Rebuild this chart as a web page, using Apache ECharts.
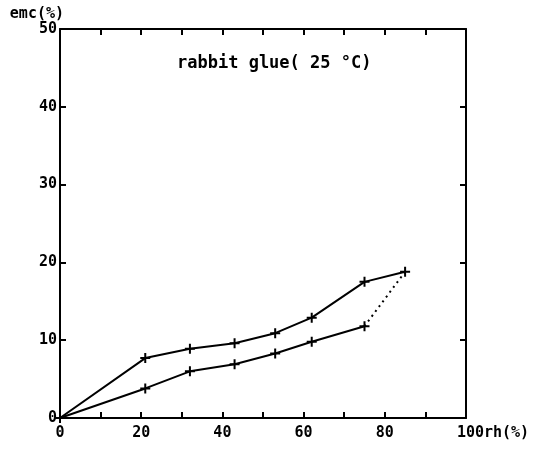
<!DOCTYPE html>
<html>
<head>
<meta charset="utf-8">
<script src="https://cdn.jsdelivr.net/npm/echarts@6/dist/echarts.min.js"></script>
<style>html,body{margin:0;padding:0;background:#fff}#c{width:534px;height:449px}</style>
</head>
<body>
<div id="c"></div>
<script>
var rhUpper = [0, 21, 32, 43, 53, 62, 75, 85];
var emcUpper = [0, 7.7, 8.9, 9.6, 10.9, 12.9, 17.5, 18.8];
var rhLower = [0, 21, 32, 43, 53, 62, 75];
var emcLower = [0, 3.8, 6.0, 6.9, 8.3, 9.8, 11.8];
var titleText = 'rabbit glue( 25 °C)';
var yName = 'emc(%)';
var xName = 'rh(%)';

function pairs(xs, ys){ return xs.map(function(x,i){ return [x, ys[i]]; }); }
var upper = pairs(rhUpper, emcUpper);
var lower = pairs(rhLower, emcLower);
var connector = [lower[lower.length-1], upper[upper.length-1]];

var FONT = 'DejaVu Sans Mono';
var plus = 'path://M0,3.6H3.6V0H5.4V3.6H9V5.4H5.4V9H3.6V5.4H0Z';
var chart = echarts.init(document.getElementById('c'));
var lblStyle = {fontFamily: FONT, fontWeight: 'bold', fontSize: 15, color: '#000'};
var axLine = {onZero: false, lineStyle: {color: '#000', width: 2}};
var tick = {inside: true, length: 6, lineStyle: {color: '#000', width: 2}};
chart.setOption({
  animation: false,
  backgroundColor: '#fff',
  title: {text: titleText, left: 172, top: 50, textStyle: {fontFamily: FONT, fontWeight: 'bold', fontSize: 17, color: '#000'}},
  grid: {left: 60, right: 68, top: 29, bottom: 31},
  xAxis: [{
    type: 'value', min: 0, max: 100, interval: 10, position: 'bottom',
    axisLine: axLine, axisTick: tick,
    axisLabel: Object.assign({
      margin: 8,
      formatter: function(v){
        if (v === 100) return '{e|' + v + xName + '}';
        return v % 20 === 0 ? String(v) : '';
      },
      rich: {e: {fontFamily: FONT, fontWeight: 'bold', fontSize: 15, color: '#000', padding: [0, 0, 0, 54]}}
    }, lblStyle),
    splitLine: {show: false}
  }, {
    type: 'value', min: 0, max: 100, interval: 10, position: 'top',
    axisLine: axLine, axisTick: tick,
    axisLabel: {show: false}, splitLine: {show: false}
  }],
  yAxis: [{
    type: 'value', min: 0, max: 50, interval: 10, position: 'left',
    name: yName, nameLocation: 'end', nameGap: 7,
    nameTextStyle: {fontFamily: FONT, fontWeight: 'bold', fontSize: 15, color: '#000', align: 'right', padding: [0, -4, 0, 0]},
    axisLine: axLine, axisTick: tick,
    axisLabel: Object.assign({margin: 3}, lblStyle),
    splitLine: {show: false}
  }, {
    type: 'value', min: 0, max: 50, interval: 10, position: 'right',
    axisLine: axLine, axisTick: tick,
    axisLabel: {show: false}, splitLine: {show: false}
  }],
  series: [{
    type: 'line', data: upper, symbol: plus, symbolSize: 10,
    lineStyle: {color: '#000', width: 2}, itemStyle: {color: '#000'}
  }, {
    type: 'line', data: lower, symbol: plus, symbolSize: 10,
    lineStyle: {color: '#000', width: 2}, itemStyle: {color: '#000'}
  }, {
    type: 'line', data: connector, symbol: 'none',
    lineStyle: {color: '#000', width: 2, type: [2, 4]}
  }]
});
</script>
</body>
</html>
